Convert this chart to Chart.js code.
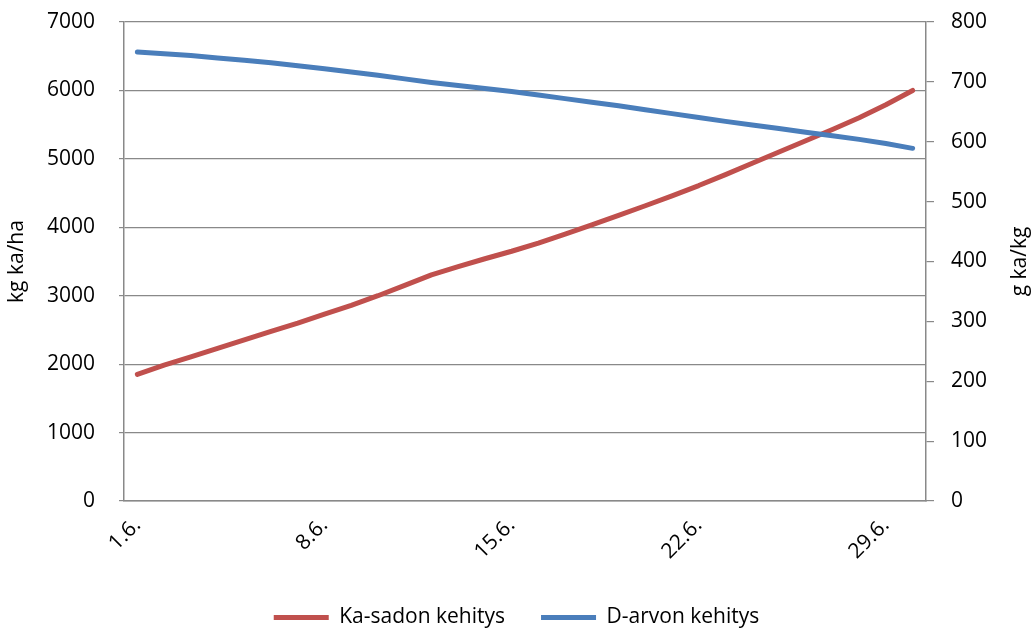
<!DOCTYPE html>
<html>
<head>
<meta charset="utf-8">
<script src="https://cdn.jsdelivr.net/npm/chart.js@4/dist/chart.umd.min.js"></script>
<style>
  html, body { margin: 0; padding: 0; background: #fff; }
  #wrap { width: 1033px; height: 630px; }
</style>
</head>
<body>
<div id="wrap"><canvas id="chart"></canvas></div>
<script>
// paivat 1.6. - 30.6.
const paivat = ['1.6.', '2.6.', '3.6.', '4.6.', '5.6.', '6.6.', '7.6.', '8.6.', '9.6.', '10.6.',
    '11.6.', '12.6.', '13.6.', '14.6.', '15.6.', '16.6.', '17.6.', '18.6.', '19.6.', '20.6.',
    '21.6.', '22.6.', '23.6.', '24.6.', '25.6.', '26.6.', '27.6.', '28.6.', '29.6.', '30.6.'];

// kg ka/ha (vasen akseli)
const kaSato = [1850, 1985, 2105, 2230, 2355, 2480, 2600, 2730, 2860, 3000,
    3150, 3305, 3425, 3540, 3650, 3770, 3900, 4035, 4175, 4315,
    4460, 4610, 4770, 4935, 5100, 5265, 5430, 5600, 5790, 6000];

// g ka/kg (oikea akseli)
const dArvo = [750, 747, 744, 740, 736, 732, 727, 722, 716.5, 711,
    705, 699, 694, 689, 684, 678, 672, 666, 660, 653.5,
    647, 640.5, 634, 628, 622, 616, 610, 604, 597, 589];

const vasenTicks = [0, 1000, 2000, 3000, 4000, 5000, 6000, 7000];
const oikeaTicks = [0, 100, 200, 300, 400, 500, 600, 700, 800];

const fontti = 'Open Sans';
const harmaa = '#898989';

// oikean akselin otsikko luetaan alhaalta ylos
const oikeaOtsikko = {
    id: 'oikeaOtsikko',
    afterDraw(chart) {
        const ctx = chart.ctx;
        const area = chart.chartArea;
        ctx.save();
        ctx.translate(1020, (area.top + area.bottom) / 2);
        ctx.rotate(-Math.PI / 2);
        ctx.font = '21px "' + fontti + '"';
        ctx.fillStyle = '#000';
        ctx.textAlign = 'center';
        ctx.textBaseline = 'middle';
        ctx.fillText('g ka/kg', 0, 0);
        ctx.restore();
    }
};

new Chart(document.getElementById('chart'), {
    type: 'line',
    data: {
        labels: paivat,
        datasets: [{
            label: 'Ka-sadon kehitys',
            data: kaSato,
            yAxisID: 'y',
            borderColor: '#C0504D',
            backgroundColor: '#C0504D',
            borderWidth: 5,
            borderCapStyle: 'round',
            borderJoinStyle: 'round',
            pointRadius: 0,
            tension: 0,
            order: 1
        }, {
            label: 'D-arvon kehitys',
            data: dArvo,
            yAxisID: 'y1',
            borderColor: '#4A7EBB',
            backgroundColor: '#4A7EBB',
            borderWidth: 5,
            borderCapStyle: 'round',
            borderJoinStyle: 'round',
            pointRadius: 0,
            tension: 0,
            order: 0
        }]
    },
    options: {
        responsive: true,
        maintainAspectRatio: false,
        animation: false,
        layout: { padding: { top: 22, bottom: -8, left: 0, right: 0 } },
        plugins: {
            tooltip: { enabled: false },
            legend: {
                position: 'bottom',
                labels: {
                    color: '#000',
                    font: { family: fontti, size: 21 },
                    usePointStyle: true,
                    pointStyle: 'line',
                    pointStyleWidth: 55,
                    padding: 36,
                    sort: (a, b) => a.datasetIndex - b.datasetIndex
                }
            }
        },
        scales: {
            x: {
                offset: true,
                grid: { display: false, drawTicks: false },
                border: { display: true, color: harmaa, width: 1.5 },
                ticks: {
                    autoSkip: false,
                    maxRotation: 45,
                    minRotation: 45,
                    padding: 12,
                    color: '#000',
                    font: { family: fontti, size: 21 },
                    callback: function (v, i) { return i % 7 === 0 ? paivat[i] : ''; }
                },
                afterFit: s => { s.height = 70; }
            },
            y: {
                position: 'left',
                min: 0,
                max: 7000,
                afterBuildTicks: s => { s.ticks = vasenTicks.map(v => ({ value: v })); },
                grid: { color: harmaa, lineWidth: 1.2, tickLength: 5 },
                border: { display: true, color: harmaa, width: 1.5 },
                ticks: {
                    color: '#000',
                    padding: 24,
                    font: { family: fontti, size: 21 },
                    callback: v => String(v)
                },
                title: {
                    display: true,
                    text: 'kg ka/ha',
                    color: '#000',
                    font: { family: fontti, size: 21 },
                    padding: { top: 4, bottom: 0 }
                },
                afterFit: s => { s.width = 124; s.paddingTop = 0; s.paddingBottom = 0; }
            },
            y1: {
                position: 'right',
                min: 0,
                max: 800,
                afterBuildTicks: s => { s.ticks = oikeaTicks.map(v => ({ value: v })); },
                grid: { drawOnChartArea: false, color: harmaa, lineWidth: 1.2, tickLength: 8 },
                border: { display: true, color: harmaa, width: 1.5 },
                ticks: {
                    color: '#000',
                    padding: 17,
                    font: { family: fontti, size: 21 },
                    callback: v => String(v)
                },
                afterFit: s => { s.width = 107; s.paddingTop = 0; s.paddingBottom = 0; }
            }
        }
    },
    plugins: [oikeaOtsikko]
});
</script>
</body>
</html>
